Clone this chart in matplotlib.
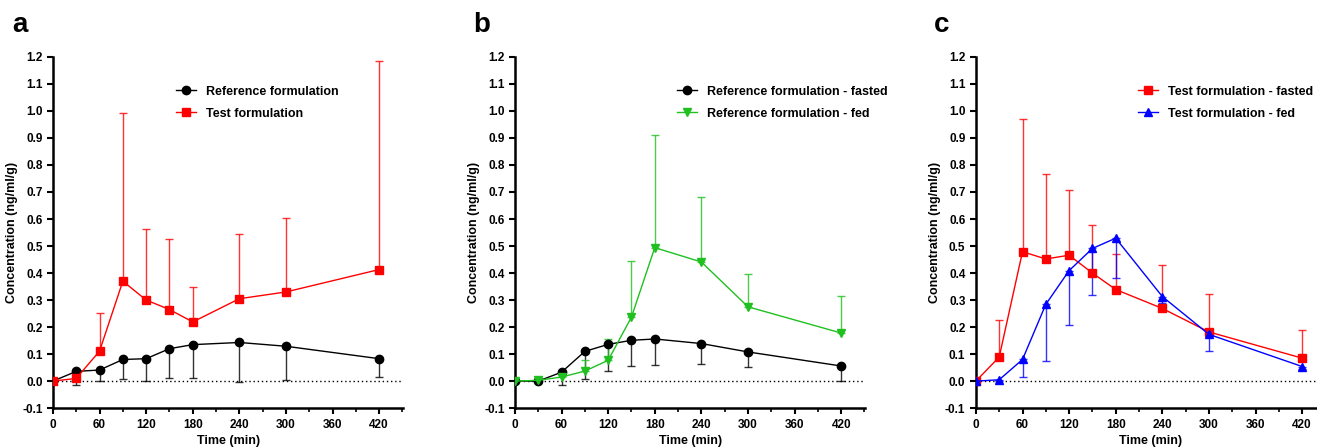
import matplotlib.pyplot as plt
import numpy as np

plt.rcParams['font.family'] = ['Liberation Sans', 'DejaVu Sans']
plt.rcParams['font.weight'] = 'bold'

time = [0, 30, 60, 90, 120, 150, 180, 240, 300, 420]

# panel a
ref_a = [0, 0.036, 0.041, 0.080, 0.083, 0.120, 0.135, 0.143, 0.129, 0.083]
ref_a_low = [0, -0.016, 0.0, 0.006, 0.0, 0.011, 0.011, -0.005, 0.004, 0.015]
test_a = [0, 0.010, 0.111, 0.370, 0.300, 0.265, 0.219, 0.305, 0.330, 0.413]
test_a_up = [0, 0.010, 0.252, 0.994, 0.564, 0.527, 0.350, 0.544, 0.602, 1.186]

# panel b
ref_fast = [0, 0.0, 0.033, 0.110, 0.136, 0.151, 0.156, 0.139, 0.108, 0.056]
ref_fast_low = [0, 0.0, -0.016, 0.006, 0.037, 0.056, 0.059, 0.063, 0.053, 0.002]
ref_fed = [0, 0.003, 0.015, 0.037, 0.077, 0.237, 0.494, 0.441, 0.275, 0.178]
ref_fed_up = [0, 0.010, 0.020, 0.079, 0.157, 0.444, 0.912, 0.683, 0.398, 0.315]

# panel c
test_fast = [0, 0.089, 0.479, 0.452, 0.466, 0.400, 0.339, 0.269, 0.182, 0.085]
test_fast_up = [0, 0.225, 0.970, 0.766, 0.708, 0.579, 0.472, 0.428, 0.323, 0.188]
test_fed = [0, 0.005, 0.080, 0.284, 0.409, 0.491, 0.529, 0.313, 0.173, 0.054]
test_fed_low = [0, 0.002, 0.015, 0.074, 0.207, 0.319, 0.380, 0.290, 0.113, 0.045]

RED = '#ff0000'
GREEN = '#1fc01f'
BLUE = '#0000ff'


def series(ax, y, bound, color, marker, label, ms, up=True):
    y = np.array(y)
    bound = np.array(bound)
    if up:
        err = [np.zeros_like(y), np.clip(bound - y, 0, None)]
    else:
        err = [np.clip(y - bound, 0, None), np.zeros_like(y)]
    ax.errorbar(time, y, yerr=err, fmt='none', ecolor=color, elinewidth=1.0,
                capsize=3, capthick=1.0, alpha=0.8, zorder=2)
    ax.plot(time, y, color=color, lw=1.0, marker=marker, ms=ms,
            label=label, zorder=3)


fig = plt.figure(figsize=(13.17, 4.48), dpi=100)
lefts = [0.0402, 0.391, 0.741]
axes = [fig.add_axes([l, 0.089, 0.266, 0.784]) for l in lefts]

series(axes[0], ref_a, ref_a_low, 'black', 'o', 'Reference formulation', 6, up=False)
series(axes[0], test_a, test_a_up, RED, 's', 'Test formulation', 6)

series(axes[1], ref_fast, ref_fast_low, 'black', 'o', 'Reference formulation - fasted', 6, up=False)
series(axes[1], ref_fed, ref_fed_up, GREEN, 'v', 'Reference formulation - fed', 6)

series(axes[2], test_fast, test_fast_up, RED, 's', 'Test formulation - fasted', 6)
series(axes[2], test_fed, test_fed_low, BLUE, '^', 'Test formulation - fed', 6, up=False)

legend_x = [0.32, 0.43, 0.43]
for ax, lx in zip(axes, legend_x):
    ax.axhline(0, color='black', lw=1.0, ls=(0, (1, 2)), zorder=1)
    ax.set_xlim(0, 451)
    ax.set_ylim(-0.1, 1.2)
    ax.set_xticks(range(0, 421, 60))
    ax.set_xticks(range(30, 451, 30), minor=True)
    ax.set_yticks(np.round(np.arange(-0.1, 1.21, 0.1), 1))
    ax.set_yticklabels([f'{v:.1f}' for v in np.arange(-0.1, 1.21, 0.1)])
    for s in ['top', 'right']:
        ax.spines[s].set_visible(False)
    for s in ['left', 'bottom']:
        ax.spines[s].set_linewidth(1.8)
    ax.tick_params(axis='both', which='major', length=4, width=1.5, labelsize=8.5)
    ax.tick_params(axis='x', which='minor', length=3, width=1.2)
    ax.set_xlabel('Time (min)', fontsize=9, fontweight='bold', labelpad=3)
    ax.set_ylabel('Concentration (ng/ml/g)', fontsize=9, fontweight='bold', labelpad=3)
    ax.legend(loc='upper left', bbox_to_anchor=(lx, 0.95), frameon=False,
              fontsize=9, handlelength=1.6, handletextpad=0.8, labelspacing=0.8)

for letter, lx in zip('abc', [12, 473, 934]):
    fig.text(lx / 1317, 1 - 25 / 448, letter, fontsize=20, fontweight='bold',
             va='center', ha='left')

fig.savefig('out.png', dpi=100)
